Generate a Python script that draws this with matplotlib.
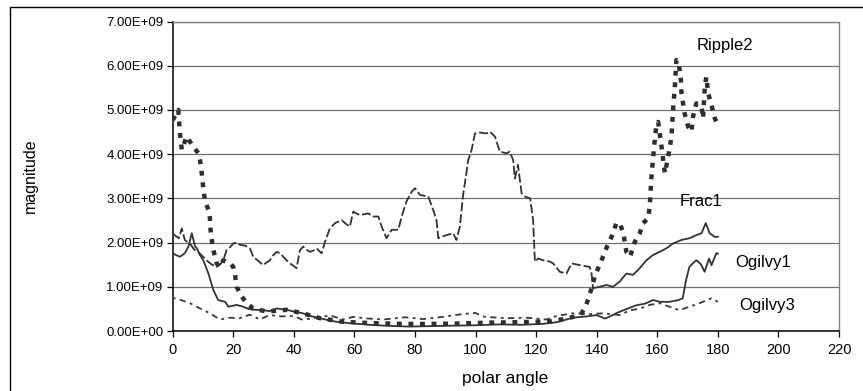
import matplotlib
matplotlib.use('Agg')
import matplotlib.pyplot as plt
import matplotlib.ticker as mticker
from matplotlib.patches import Rectangle
import numpy as np

plt.rcParams['font.family'] = ['Liberation Sans', 'DejaVu Sans']

# values in units of 1e9
frac1_ang = [0, 1, 2, 3, 4, 5, 6, 7, 8, 9, 10, 11, 12, 13, 14.5, 15.6, 16.7, 17.8, 19, 20,
             21, 22.2, 24, 25.5, 26.6, 28, 29.9, 31, 32.1, 33, 34.3, 35.4, 36.5, 37.6, 38.7,
             40, 40.9, 42, 43.1, 44, 45.3, 46.5, 47.5, 48.5, 49.2, 50.3, 51.9, 53.6, 55.8,
             56.9, 58.5, 59.6, 61.8, 63, 64.6, 66.2, 67.9, 69, 70.6, 72.3, 74.5, 75.6, 77.2,
             78.9, 80, 81.6, 84.4, 86, 87.1, 87.7, 90.4, 92.6, 93.7, 94.8, 95.9, 97.6, 98.7,
             99.8, 101.4, 103.6, 104.7, 106.4, 108, 110.2, 111.3, 112.4, 113, 114, 115.2,
             116.3, 118, 119, 119.6, 120.7, 122.3, 124.5, 125.6, 127.8, 130, 131.7, 134.4,
             136, 137.7, 138.3, 138.8,
             141, 143.2, 145.4, 147.6, 149.8, 152, 154.2, 156.4, 158.6, 160.8, 163, 165.2,
             168, 170.7, 172.9, 174.6, 176, 177.3, 179, 180]
frac1_val = [2.2, 2.15, 2.1, 2.32, 2.06, 2.0, 1.95, 1.85, 1.8, 1.75, 1.68, 1.62, 1.55, 1.5,
             1.45, 1.5, 1.6, 1.83, 1.9, 1.98, 2.0, 1.95, 1.93, 1.87, 1.68, 1.6, 1.49, 1.55,
             1.6, 1.7, 1.79, 1.76, 1.68, 1.6, 1.53, 1.47, 1.42, 1.83, 1.91, 1.85, 1.79, 1.82,
             1.87, 1.8, 1.76, 2.02, 2.32, 2.44, 2.51, 2.44, 2.36, 2.7, 2.62, 2.64, 2.66, 2.59,
             2.59, 2.36, 2.1, 2.29, 2.29, 2.59, 2.93, 3.15, 3.23, 3.08, 3.04, 2.74, 2.51, 2.1,
             2.17, 2.21, 2.06, 2.36, 3.08, 3.87, 4.1, 4.47, 4.49, 4.47, 4.51, 4.4, 4.06, 4.02,
             4.06, 3.87, 3.45, 3.76, 3.12, 3.04, 3.0, 2.51, 1.57, 1.64, 1.6, 1.57, 1.53, 1.34,
             1.3, 1.53, 1.49, 1.47, 1.45, 1.3, 0.97,
             1.0, 1.04, 1.0, 1.12, 1.3, 1.27, 1.42, 1.6, 1.72, 1.79, 1.87, 1.98, 2.06, 2.1,
             2.17, 2.21, 2.44, 2.21, 2.13, 2.13]
frac1_solid_from = 138.8

ogilvy1_ang = [0, 1, 2.4, 4, 5.2, 6.3, 7.4, 8, 9, 10.1, 11.8, 13.4, 15, 17.3, 18.4, 21.1,
               23.3, 25, 27, 29.9, 32, 34.3, 37.6, 40, 43, 46, 48.6, 51, 54, 58, 65, 70,
               78, 85, 92, 100, 108, 115, 122, 127, 132, 136.6, 140, 142.7, 145, 147,
               150, 153, 156, 158.6, 160.8, 164, 167, 168.4, 169.5, 170.6, 172.3, 173,
               174.5, 175.6, 177.1, 177.9, 179.5, 180]
ogilvy1_val = [1.76, 1.72, 1.68, 1.76, 1.91, 2.21, 1.91, 1.87, 1.72, 1.6, 1.3, 0.93, 0.7,
               0.66, 0.55, 0.59, 0.55, 0.5, 0.48, 0.47, 0.45, 0.51, 0.48, 0.44, 0.4, 0.33,
               0.29, 0.25, 0.21, 0.18, 0.14, 0.12, 0.1, 0.11, 0.12, 0.13, 0.15, 0.14, 0.16,
               0.2, 0.3, 0.33, 0.36, 0.28, 0.35, 0.42, 0.5, 0.58, 0.62, 0.7, 0.66, 0.66, 0.7,
               0.74, 1.15, 1.45, 1.57, 1.6, 1.5, 1.34, 1.64, 1.49, 1.76, 1.75]

ripple2_ang = [0, 1.85, 2.4, 3, 4.6, 6.8, 8.5, 9, 9.6, 10.1, 10.7, 11.8, 12.3, 12.5, 13.2,
               14.5, 15.6, 16.7, 18.9, 20, 20.6, 21.1, 22.8, 24.4, 26.6, 31, 37.6, 43,
               48.6, 56, 65, 76, 85, 95, 105, 115, 125, 130, 134, 135, 136.6, 137.5,
               138.5, 139.4, 141.6, 143.4, 144.9, 146.5, 147.6, 148.8, 149.8, 151, 152.6,
               154.2, 155.3, 157, 157.5, 158, 159, 159.7, 160.3, 161.4, 162.5, 163.6,
               164.7, 165.2, 165.8, 166.3, 167, 167.8, 168, 169, 170.2, 171.3, 171.8,
               172.9, 174.6, 175.1, 175.7, 176.2, 176.8, 177.9, 179, 179.5]
ripple2_val = [4.77, 5.0, 4.47, 4.1, 4.4, 4.17, 4.02, 3.87, 3.57, 3.23, 2.93, 2.74, 2.55,
               2.29, 1.9, 1.53, 1.45, 1.6, 1.53, 1.45, 1.27, 1.0, 0.78, 0.63, 0.51, 0.44,
               0.48, 0.4, 0.29, 0.21, 0.18, 0.16, 0.16, 0.17, 0.19, 0.2, 0.22, 0.28, 0.35,
               0.4, 0.6, 0.8, 1.0, 1.25, 1.6, 1.91, 2.13, 2.44, 2.44, 2.21, 1.79, 1.68,
               2.02, 2.21, 2.44, 2.55, 2.81, 3.42, 4.21, 4.66, 4.73, 4.17, 3.57, 3.94, 4.4,
               5.0, 5.53, 6.13, 6.1, 5.68, 5.38, 4.93, 4.62, 4.51, 4.85, 5.15, 5.07, 4.81,
               5.53, 5.75, 5.38, 5.11, 4.81, 4.74]

ogilvy3_ang = [0, 1.9, 5.7, 9, 12.3, 15.6, 18.9, 22.2, 25.5, 28.8, 32, 36, 39.8, 43, 47,
               52, 56.3, 59.6, 63, 69.5, 76.7, 82.7, 89.3, 93, 99.8, 103, 110, 117, 123.4,
               126.7, 132, 137, 142, 147.6, 151, 154, 157.5, 160.8, 164, 167.3, 170.7,
               174, 177.9, 180]
ogilvy3_val = [0.75, 0.72, 0.63, 0.51, 0.4, 0.26, 0.3, 0.29, 0.37, 0.26, 0.36, 0.33, 0.34,
               0.25, 0.3, 0.35, 0.26, 0.32, 0.29, 0.26, 0.31, 0.27, 0.32, 0.36, 0.41, 0.32,
               0.29, 0.3, 0.26, 0.34, 0.4, 0.38, 0.4, 0.36, 0.47, 0.5, 0.59, 0.63, 0.55,
               0.47, 0.55, 0.63, 0.74, 0.66]

# label name, x, y (1e9)
series_labels = [('Ripple2', 173, 6.47), ('Frac1', 167.5, 2.92),
                 ('Ogilvy1', 185.6, 1.56), ('Ogilvy3', 187.2, 0.57)]

W, H = 863, 391
fig = plt.figure(figsize=(W / 100, H / 100), dpi=100)
ax = fig.add_axes([172.7 / W, 1 - 331 / H, (839 - 172.7) / W, (331 - 21.6) / H])

lc = '#333333'
fa = np.array(frac1_ang)
fv = np.array(frac1_val) * 1e9
m = fa <= frac1_solid_from
ax.plot(fa[m], fv[m], color=lc, lw=1.3, dashes=(5, 1.6), zorder=3)
ax.plot(fa[fa >= frac1_solid_from], fv[fa >= frac1_solid_from], color=lc, lw=1.3, zorder=3)

ax.plot(ogilvy1_ang, np.array(ogilvy1_val) * 1e9, color=lc, lw=1.3, zorder=3)
ax.plot(ogilvy3_ang, np.array(ogilvy3_val) * 1e9, color='#3a3a3a', lw=1.3,
        dashes=(1.6, 2.4, 3.5, 2.4), zorder=3)
ax.plot(ripple2_ang, np.array(ripple2_val) * 1e9, color='#2e2e2e', lw=3.2,
        dashes=(1.1, 1.5), dash_capstyle='butt', zorder=4)

for name, x, y in series_labels:
    ax.text(x, y * 1e9, name, fontsize=12, va='center', ha='left', color='black')

ax.set_xlim(0, 220)
ax.set_ylim(0, 7e9)
ax.set_xticks(np.arange(0, 221, 20))
ax.set_yticks(np.arange(0, 7.01e9, 1e9))
ax.yaxis.set_major_formatter(mticker.FuncFormatter(lambda v, p: f'{v:.2E}'))
ax.tick_params(axis='both', direction='out', length=4.5, width=0.9, colors='black')
ax.tick_params(axis='y', pad=2, labelsize=9.5)
ax.tick_params(axis='x', pad=4, labelsize=10.5)
ax.grid(axis='y', color='#707070', lw=0.9, zorder=0)
ax.set_axisbelow(True)
for s in ['left', 'bottom']:
    ax.spines[s].set_color('black')
    ax.spines[s].set_linewidth(1.1)
for s in ['top', 'right']:
    ax.spines[s].set_color('#808080')
    ax.spines[s].set_linewidth(1.0)

fig.text(30 / W, 1 - 176 / H, 'magnitude', rotation=90, ha='center', va='center',
         fontsize=11.5)
fig.text(505 / W, 1 - 378 / H, 'polar angle', ha='center', va='center', fontsize=12.5)

fig.patches.append(Rectangle((10 / W, -0.05), 1.2, 1 - 7 / H + 0.05,
                             transform=fig.transFigure, fill=False, ec='black', lw=1.0))

fig.savefig('out.png', dpi=100)
